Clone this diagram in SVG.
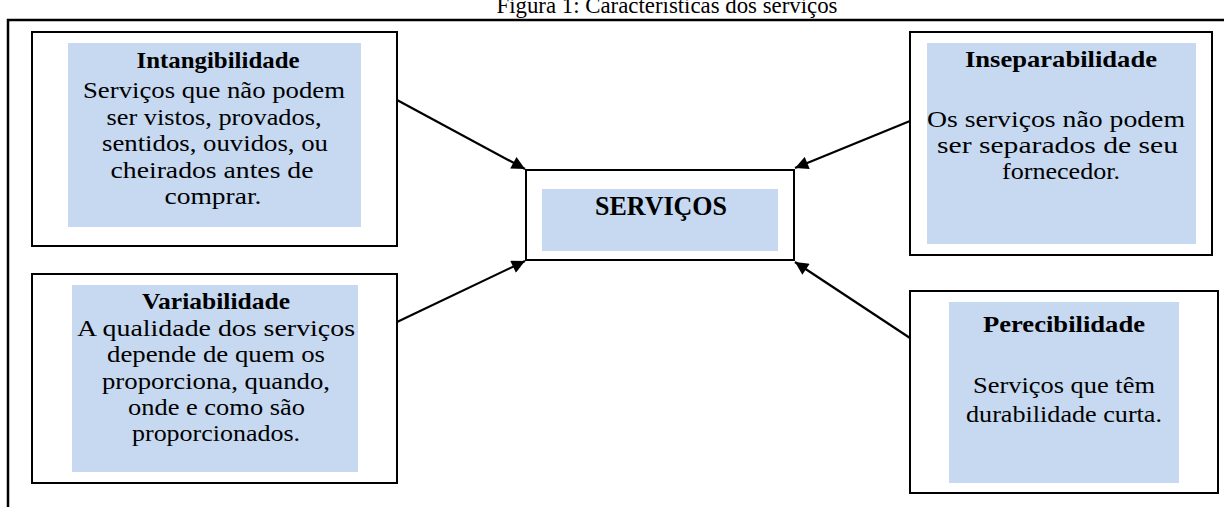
<svg xmlns="http://www.w3.org/2000/svg" width="1224" height="507" viewBox="0 0 1224 507">
<defs>
<style>
.frame{fill:none;stroke:#000;stroke-width:2.5}
.box{fill:#fff;stroke:#000;stroke-width:2}
.fill{fill:#c6d9f1}
text{font-family:"Liberation Serif","Times New Roman",serif;font-size:24px;fill:#000;text-anchor:middle}
.h{font-weight:bold}
.big{font-weight:bold;font-size:27px}
.conn{stroke:#000;stroke-width:2.2;fill:none;marker-end:url(#ah)}
</style>
<marker id="ah" viewBox="0 0 10 10" refX="10" refY="5" markerWidth="7" markerHeight="6" orient="auto" markerUnits="strokeWidth">
<path d="M0,0 L10,5 L0,10 z" fill="#000"/>
</marker>
</defs>
<rect width="1224" height="507" fill="#fff"/>
<text x="667" y="13" style="font-size:23px" textLength="341" lengthAdjust="spacingAndGlyphs">Figura 1: Características dos serviços</text>
<path class="frame" d="M8,507 L8,20 L1224,20"/>
<g id="connectors">
<line class="conn" x1="397" y1="100" x2="525" y2="169"/>
<line class="conn" x1="397" y1="322" x2="525" y2="261"/>
<line class="conn" x1="910" y1="121" x2="795" y2="168"/>
<line class="conn" x1="910" y1="338" x2="795" y2="262"/>
</g>
<g id="intangibilidade">
<rect class="box" x="32" y="32" width="365" height="214"/>
<rect class="fill" x="68" y="43" width="293" height="184"/>
<text class="h" x="218" y="68" textLength="163" lengthAdjust="spacingAndGlyphs">Intangibilidade</text>
<text x="214" y="98" textLength="262" lengthAdjust="spacingAndGlyphs">Serviços que não podem</text>
<text x="214" y="124.5" textLength="215" lengthAdjust="spacingAndGlyphs">ser vistos, provados,</text>
<text x="215" y="151" textLength="226" lengthAdjust="spacingAndGlyphs">sentidos, ouvidos, ou</text>
<text x="212" y="177.5" textLength="203" lengthAdjust="spacingAndGlyphs">cheirados antes de</text>
<text x="213" y="204" textLength="97" lengthAdjust="spacingAndGlyphs">comprar.</text>
</g>
<g id="variabilidade">
<rect class="box" x="32" y="274" width="365" height="209"/>
<rect class="fill" x="72" y="285" width="286" height="187"/>
<text class="h" x="216" y="308.5" textLength="148" lengthAdjust="spacingAndGlyphs">Variabilidade</text>
<text x="216" y="336" textLength="278" lengthAdjust="spacingAndGlyphs">A qualidade dos serviços</text>
<text x="216" y="362" textLength="218" lengthAdjust="spacingAndGlyphs">depende de quem os</text>
<text x="216" y="388.5" textLength="228" lengthAdjust="spacingAndGlyphs">proporciona, quando,</text>
<text x="216.5" y="414.5" textLength="177" lengthAdjust="spacingAndGlyphs">onde e como são</text>
<text x="216" y="441" textLength="168" lengthAdjust="spacingAndGlyphs">proporcionados.</text>
</g>
<g id="servicos">
<rect class="box" x="526" y="170" width="268" height="90"/>
<rect class="fill" x="542" y="189" width="236" height="62"/>
<text class="big" x="661" y="215" textLength="132" lengthAdjust="spacingAndGlyphs">SERVIÇOS</text>
</g>
<g id="inseparabilidade">
<rect class="box" x="910" y="32" width="302" height="223"/>
<rect class="fill" x="927" y="43" width="269" height="201"/>
<text class="h" x="1061" y="67" textLength="192" lengthAdjust="spacingAndGlyphs">Inseparabilidade</text>
<text x="1056" y="127" textLength="258" lengthAdjust="spacingAndGlyphs">Os serviços não podem</text>
<text x="1057.5" y="153" textLength="241" lengthAdjust="spacingAndGlyphs">ser separados de seu</text>
<text x="1061" y="179" textLength="118" lengthAdjust="spacingAndGlyphs">fornecedor.</text>
</g>
<g id="perecibilidade">
<rect class="box" x="910" y="291" width="308" height="202"/>
<rect class="fill" x="949" y="302" width="230" height="181"/>
<text class="h" x="1064" y="332" textLength="162" lengthAdjust="spacingAndGlyphs">Perecibilidade</text>
<text x="1064" y="393" textLength="182" lengthAdjust="spacingAndGlyphs">Serviços que têm</text>
<text x="1064" y="422" textLength="196" lengthAdjust="spacingAndGlyphs">durabilidade curta.</text>
</g>
</svg>
